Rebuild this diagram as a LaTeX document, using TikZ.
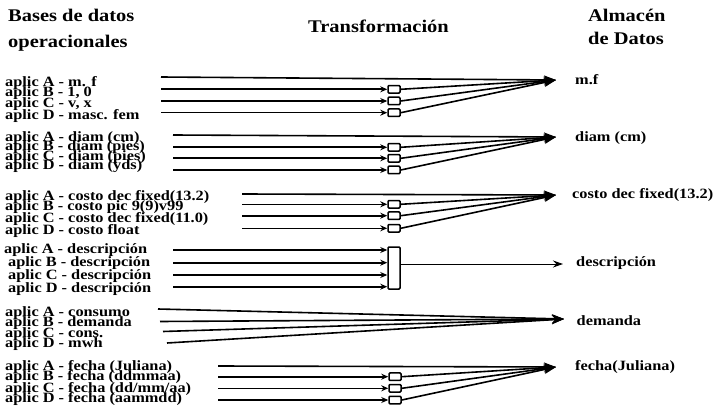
\documentclass[tikz,border=0pt]{standalone}
\usepackage{fontspec}
\setmainfont{Liberation Serif}[FakeStretch=1.15, BoldFeatures={FakeStretch=1.15}]
\usetikzlibrary{arrows.meta}
\begin{document}
\begin{tikzpicture}[x=1pt,y=-1pt,
  lab/.style={anchor=base west, inner sep=0pt, font=\fontsize{14.2}{14.2}\selectfont\bfseries},
  head/.style={anchor=base west, inner sep=0pt, font=\fontsize{17.8}{18}\selectfont\bfseries},
  bx/.style={draw, line width=1.5pt, rounded corners=1pt, minimum width=12pt, minimum height=7.5pt, inner sep=0pt},
  tallbx/.style={draw, line width=1.5pt, rounded corners=1pt, minimum width=12pt, minimum height=42pt, inner sep=0pt},
  conn/.style={line width=1.6pt, -{Stealth[length=12pt,width=9pt]}},
  small/.style={line width=1.6pt, -{Stealth[length=7pt,width=6pt]}},
]
\useasboundingbox (0,0) rectangle (715,409);

% headers
\node[head] (h1) at (8,21.5) {Bases de datos};
\node[head] (h2) at (8,48) {operacionales};
\node[head] (h3) at (308,33) {Transformación};
\node[head] (h4) at (588,21.5) {Almacén};
\node[head] (h5) at (588,45) {de Datos};

% ---------- group 1 : m.f
\node[lab] (l1a) at (5,86.5) {aplic A - m. f};
\node[lab] (l1b) at (5,97) {aplic B - 1, 0};
\node[lab] (l1c) at (5,108) {aplic C - v, x};
\node[lab] (l1d) at (5,119.3) {aplic D - masc. fem};
\coordinate (t1) at (556,80);
\node[lab] (r1) at (575,85) {m.f};
\coordinate (s1a) at (161,77);
\coordinate (s1b) at (161,89.3);
\coordinate (s1c) at (161,101);
\coordinate (s1d) at (161,112.7);
\node[bx] (b1b) at (394,89.3) {};
\node[bx] (b1c) at (394,101) {};
\node[bx] (b1d) at (394,112.7) {};
\draw[conn] (s1a) -- (t1);
\foreach \k in {b,c,d}{
  \draw[small] (s1\k) -- (b1\k.west);
  \draw[conn] (b1\k.east) -- (t1);
}

% ---------- group 2 : diam
\node[lab] (l2a) at (5,141.5) {aplic A - diam (cm)};
\node[lab] (l2b) at (5,151) {aplic B - diam (pies)};
\node[lab] (l2c) at (5,160.5) {aplic C - diam (pies)};
\node[lab] (l2d) at (5,170) {aplic D - diam (yds)};
\coordinate (t2) at (556,137);
\node[lab] (r2) at (575,141.7) {diam (cm)};
\coordinate (s2a) at (173,135);
\coordinate (s2b) at (173,147.3);
\coordinate (s2c) at (173,158.3);
\coordinate (s2d) at (173,170);
\node[bx] (b2b) at (394,147.3) {};
\node[bx] (b2c) at (394,158.3) {};
\node[bx] (b2d) at (394,170) {};
\draw[conn] (s2a) -- (t2);
\foreach \k in {b,c,d}{
  \draw[small] (s2\k) -- (b2\k.west);
  \draw[conn] (b2\k.east) -- (t2);
}

% ---------- group 3 : costo
\node[lab] (l3a) at (5,200.5) {aplic A - costo dec fixed(13.2)};
\node[lab] (l3b) at (5,210.5) {aplic B - costo pic 9(9)v99};
\node[lab] (l3c) at (5,222.5) {aplic C - costo dec fixed(11.0)};
\node[lab] (l3d) at (5,234) {aplic D - costo float};
\coordinate (t3) at (556,195);
\node[lab] (r3) at (572,198.3) {costo dec fixed(13.2)};
\coordinate (s3a) at (242,194);
\coordinate (s3b) at (242,204.3);
\coordinate (s3c) at (242,215.7);
\coordinate (s3d) at (242,228.3);
\node[bx] (b3b) at (394,204.3) {};
\node[bx] (b3c) at (394,215.7) {};
\node[bx] (b3d) at (394,228.3) {};
\draw[conn] (s3a) -- (t3);
\foreach \k in {b,c,d}{
  \draw[small] (s3\k) -- (b3\k.west);
  \draw[conn] (b3\k.east) -- (t3);
}

% ---------- group 4 : descripcion
\node[lab] (l4a) at (4,253.5) {aplic A - descripción};
\node[lab] (l4b) at (8,266.5) {aplic B - descripción};
\node[lab] (l4c) at (8,279.5) {aplic C - descripción};
\node[lab] (l4d) at (8,292) {aplic D - descripción};
\node[tallbx] (b4) at (394,268) {};
\coordinate (s4a) at (173,250);
\coordinate (s4b) at (173,262.7);
\coordinate (s4c) at (173,275);
\coordinate (s4d) at (173,286.7);
\foreach \k in {a,b,c,d}{
  \draw[small] (s4\k) -- (s4\k -| b4.west);
}
\coordinate (o4) at (b4.east |- 0,264);
\coordinate (t4) at (563,264);
\draw[line width=1pt, -{Stealth[length=10pt,width=7pt]}] (o4) -- (t4);
\node[lab] (r4) at (576,266.7) {descripción};

% ---------- group 5 : demanda
\node[lab] (l5a) at (5,316) {aplic A - consumo};
\node[lab] (l5b) at (5,326) {aplic B - demanda};
\node[lab] (l5c) at (5,337) {aplic C - cons.};
\node[lab] (l5d) at (5,347.5) {aplic D - mwh};
\coordinate (t5) at (564,319);
\node[lab] (r5) at (576.5,325) {demanda};
\coordinate (s5a) at (158,309);
\coordinate (s5b) at (160,321.5);
\coordinate (s5c) at (163,331.5);
\coordinate (s5d) at (167,343);
\foreach \k in {a,b,c,d}{
  \draw[conn] (s5\k) -- (t5);
}

% ---------- group 6 : fecha
\node[lab] (l6a) at (5,370.7) {aplic A - fecha (Juliana)};
\node[lab] (l6b) at (5,380.7) {aplic B - fecha (ddmmaa)};
\node[lab] (l6c) at (5,392.5) {aplic C - fecha (dd/mm/aa)};
\node[lab] (l6d) at (5,402.7) {aplic D - fecha (aammdd)};
\coordinate (t6) at (556,367);
\node[lab] (r6) at (575,370.7) {fecha(Juliana)};
\coordinate (s6a) at (218,366);
\coordinate (s6b) at (218,376.7);
\coordinate (s6c) at (218,388.3);
\coordinate (s6d) at (218,400);
\node[bx] (b6b) at (395,376.7) {};
\node[bx] (b6c) at (395,388.3) {};
\node[bx] (b6d) at (395,400) {};
\draw[conn] (s6a) -- (t6);
\foreach \k in {b,c,d}{
  \draw[small] (s6\k) -- (b6\k.west);
  \draw[conn] (b6\k.east) -- (t6);
}
\end{tikzpicture}
\end{document}
